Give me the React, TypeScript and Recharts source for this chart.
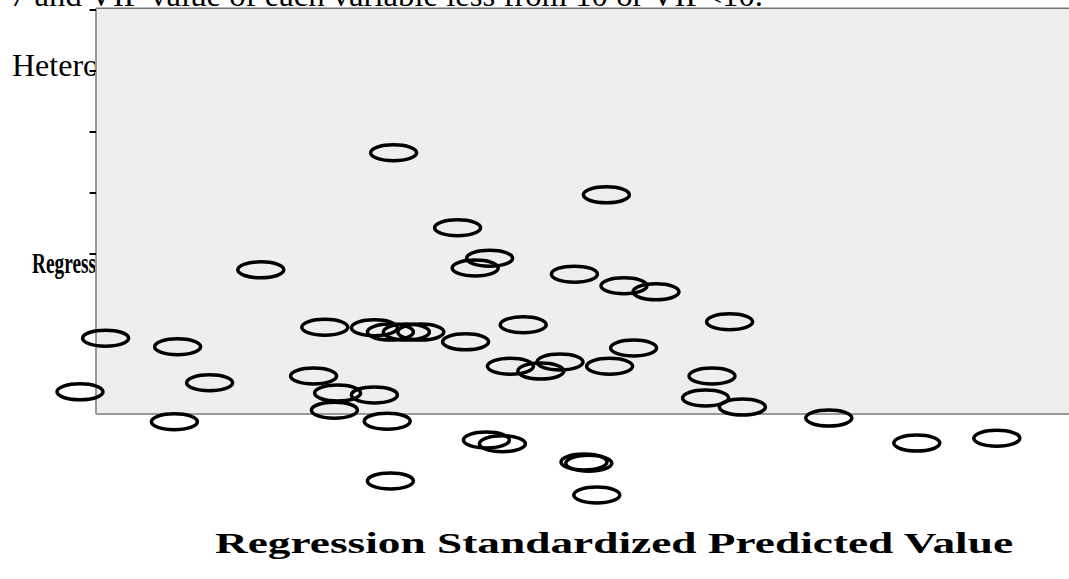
/**
 * Residual scatter plot (SPSS style) pasted over a document page.
 */

import { ScatterChart, Scatter, XAxis, YAxis, ReferenceArea, ReferenceLine } from 'recharts';

// Regression Standardized Predicted Value
const predicted = [
  -0.14, 1.19, 0.26, 0.46, 0.37, -0.97, 0.99, 1.3, 1.5, -1.94, -1.49,
  -0.57, -0.26, -0.16, -0.06, 0.03, 0.31, 0.67, 1.96, 1.36, 0.9, 0.59,
  0.78, 1.21, -1.29, -0.64, -2.1, -0.49, -0.26, 1.85, 1.81, 2.04, -0.51,
  -1.51, -0.18, 2.58, 0.44, 0.54, 3.13, 3.63, 1.05, 1.08, -0.16, 1.13,
];

// Regression Standardized Residual
const residual = [
  1.66, 0.97, 0.43, -0.07, -0.23, -0.26, -0.33, -0.52, -0.62, -1.38, -1.52,
  -1.2, -1.21, -1.28, -1.28, -1.28, -1.44, -1.16, -1.11, -1.54, -1.77, -1.84,
  -1.92, -1.84, -2.11, -2.0, -2.26, -2.28, -2.31, -2.0, -2.36, -2.51, -2.56,
  -2.75, -2.74, -2.69, -3.05, -3.11, -3.1, -3.02, -3.41, -3.43, -3.72, -3.95,
];

// tick marks on the residual axis (labels are hidden under the page text)
const yTicks = [4, 3, 2, 1, 0];

const X_DOMAIN: [number, number] = [-2.6, 4.08125];
const Y_DOMAIN: [number, number] = [-5.328, 4.164];
const BOX = { left: -2, top: 4.03, bottom: -2.623 };

const data = predicted.map((x, i) => ({ x, y: residual[i] }));

function Ring(props: any) {
  return (
    <ellipse cx={props.cx} cy={props.cy} rx={23} ry={8} fill="none" stroke="#000" strokeWidth={3.5} />
  );
}

const serif = '"Liberation Serif", "Times New Roman", serif';

export default function App() {
  return (
    <div style={{ position: 'absolute', left: 0, top: 0, width: 1069, height: 579, background: '#fff' }}>
      <svg width={1069} height={579} style={{ position: 'absolute', left: 0, top: 0 }}>
        <text x={10} y={6} fontFamily={serif} fontSize={31} textLength={753} lengthAdjust="spacingAndGlyphs">
          7 and VIF value of each variable less from 10 or VIF&lt;10.
        </text>
        <text x={12} y={76} fontFamily={serif} fontSize={32}>
          Hetero
        </text>
        <text x={32} y={273} fontFamily={serif} fontSize={30} fontWeight="bold" textLength={64} lengthAdjust="spacingAndGlyphs">
          Regress
        </text>
        <text x={215} y={553} fontFamily={serif} fontSize={30} fontWeight="bold" textLength={798} lengthAdjust="spacingAndGlyphs">
          Regression Standardized Predicted Value
        </text>
      </svg>
      <div style={{ position: 'absolute', left: 0, top: 0 }}>
        <ScatterChart width={1069} height={579} margin={{ top: 0, right: 0, bottom: 0, left: 0 }}>
          <XAxis type="number" dataKey="x" domain={X_DOMAIN} hide allowDataOverflow />
          <YAxis type="number" dataKey="y" domain={Y_DOMAIN} hide allowDataOverflow />
          <ReferenceArea
            x1={BOX.left}
            x2={X_DOMAIN[1]}
            y1={BOX.bottom}
            y2={BOX.top}
            fill="#eeeeee"
            fillOpacity={1}
            stroke="none"
          />
          <ReferenceLine segment={[{ x: BOX.left, y: BOX.top }, { x: X_DOMAIN[1], y: BOX.top }]} stroke="#777" strokeWidth={1.5} />
          <ReferenceLine segment={[{ x: BOX.left, y: BOX.bottom }, { x: X_DOMAIN[1], y: BOX.bottom }]} stroke="#999" strokeWidth={2} />
          <ReferenceLine segment={[{ x: BOX.left, y: BOX.bottom }, { x: BOX.left, y: BOX.top }]} stroke="#999" strokeWidth={2} />
          {yTicks.map((t) => (
            <ReferenceLine
              key={t}
              segment={[{ x: BOX.left - 0.04, y: t }, { x: BOX.left, y: t }]}
              stroke="#000"
              strokeWidth={2}
            />
          ))}
          <Scatter data={data} shape={<Ring />} isAnimationActive={false} />
        </ScatterChart>
      </div>
    </div>
  );
}
